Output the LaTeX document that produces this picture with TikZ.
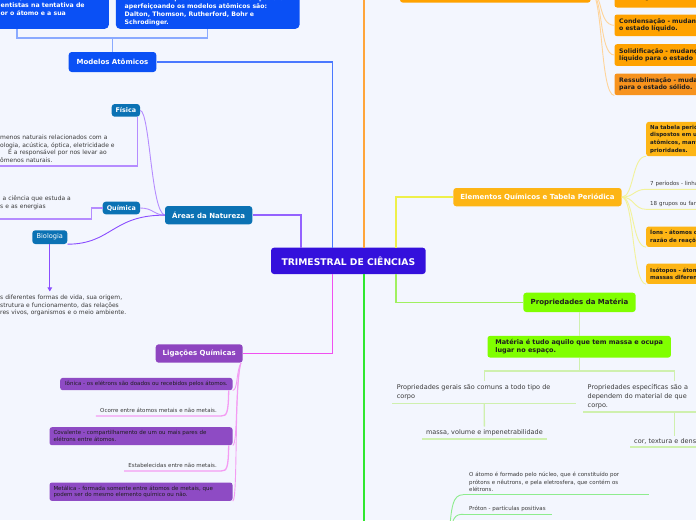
\documentclass[tikz,border=0pt]{standalone}
\usepackage{fontspec}
\setmainfont{DejaVu Sans}
\usetikzlibrary{calc,arrows.meta,positioning}

%% fills
\definecolor{bgc}{HTML}{F3F6FE}
\definecolor{hubc}{HTML}{3410DC}
\definecolor{modc}{HTML}{0A50F5}
\definecolor{arec}{HTML}{0B72B4}
\definecolor{ligc}{HTML}{8E45C0}
\definecolor{ligl}{HTML}{8E4BC4}
\definecolor{orgc}{HTML}{FFA200}
\definecolor{ressc}{HTML}{F7931E}
\definecolor{elc}{HTML}{FDB515}
\definecolor{prc}{HTML}{80FF00}
\definecolor{txtc}{HTML}{3A3A3A}
\definecolor{txtd}{HTML}{1E1E1E}
%% lines
\definecolor{lpur}{HTML}{9462FF}
\definecolor{lblu}{HTML}{4A78FF}
\definecolor{lbra}{HTML}{8AAAFF}
\definecolor{lorg}{HTML}{FFA53A}
\definecolor{lyel}{HTML}{EEF04A}
\definecolor{lmag}{HTML}{F050F0}
\definecolor{lgrn}{HTML}{2FE82F}
\definecolor{lpgr}{HTML}{A0F060}
\definecolor{twpur}{HTML}{B58CFF}
\definecolor{twbio}{HTML}{8A4DFF}
\definecolor{twmag}{HTML}{F39CF3}
\definecolor{tworg}{HTML}{FFD49A}
\definecolor{twyel}{HTML}{F2F29A}
\definecolor{twpg}{HTML}{CFF0AE}
\definecolor{twgrn}{HTML}{8EEC8E}

\newcommand{\fhub}{\bfseries\fontsize{9.2}{11}\selectfont}
\newcommand{\ftop}{\bfseries\fontsize{7}{9}\selectfont}
\newcommand{\fsub}{\bfseries\fontsize{6.4}{8}\selectfont}
\newcommand{\fpanel}{\bfseries\fontsize{6.2}{8}\selectfont}
\newcommand{\forg}{\bfseries\fontsize{6.2}{7.6}\selectfont}
\newcommand{\fel}{\bfseries\fontsize{5.5}{7.6}\selectfont}
\newcommand{\fnote}{\fontsize{6.5}{9.3}\selectfont}
\newcommand{\fdesc}{\fontsize{6}{7.8}\selectfont}
\newcommand{\fsmall}{\fontsize{5.5}{6.6}\selectfont}
\newcommand{\fatom}{\fontsize{5.5}{7.5}\selectfont}

\tikzset{
	hub/.style={fill=hubc, text=white, rounded corners=3pt, inner sep=0pt, font=\fhub},
	topic/.style={text=white, rounded corners=3pt, inner sep=0pt, font=\ftop},
	leafbox/.style={anchor=north west, rounded corners=2.5pt, inner xsep=4pt, inner ysep=0pt, align=left, text=txtd},
	note/.style={inner xsep=4pt, inner ysep=2.5pt, align=left, text=txtc},
	branch/.style={line width=1.6pt},
	twig/.style={line width=0.9pt},
	uline/.style={line width=1.3pt},
}

\begin{document}
\begin{tikzpicture}[x=1pt,y=-1pt]
	\useasboundingbox (0,0) rectangle (696,520);
	\fill[bgc] (0,0) rectangle (696,520);
	\clip (0,0) rectangle (696,520);

	%% central topic
	\node[hub, minimum width=154.7pt, minimum height=26.3pt] (tri) at (348.35,260.85) {TRIMESTRAL DE CIÊNCIAS};

	%% ports on the central topic (top and bottom)
	\coordinate (tA) at ($(tri.north)+(-47.4,0)$); % Areas
	\coordinate (tM) at ($(tri.north)+(-15.7,0)$); % Modelos
	\coordinate (tO) at ($(tri.north)+(15.7,0)$);  % orange branch
	\coordinate (tE) at ($(tri.north)+(47.4,0)$);  % Elementos
	\coordinate (bL) at ($(tri.south)+(-15.7,0)$); % Ligacoes
	\coordinate (bG) at ($(tri.south)+(15.7,0)$);  % green branch
	\coordinate (bP) at ($(tri.south)+(47.4,0)$);  % Propriedades

	%% Modelos Atomicos
	\node[topic, fill=modc, minimum width=87.6pt, minimum height=20pt] (mod) at (112.5,62) {Modelos Atômicos};
	\node[fill=modc, rounded corners=4pt, inner sep=0pt, minimum width=183.4pt, minimum height=60pt, anchor=south east] (mda) at (109,29) {};
	\node[anchor=north west, inner sep=0pt, align=left, text=white, font=\fpanel] (mdat) at (0.5,-5.5) {mos que foram\\entistas na tentativa de\\or o átomo e a sua};
	\node[fill=modc, rounded corners=4pt, inner xsep=4pt, inner ysep=3pt, align=left, text=white, font=\fpanel, minimum width=183.6pt, anchor=south west] (mdb) at (115.7,29) {Os cientistas que criaram e com o tempo foram\\aperfeiçoando os modelos atômicos são:\\Dalton, Thomson, Rutherford, Bohr e\\Schrodinger.};

	\coordinate (msplit) at ($(mod.north)+(0,-13.7)$);
	\draw[uline, lbra] (mod.north) -- (msplit);
	\draw[uline, lbra] (mda.south) |- (msplit) -| (mdb.south);
	\draw[branch, lblu] (mod.east) -| (tM);

	%% Areas da Natureza
	\node[topic, fill=arec, minimum width=87.3pt, minimum height=18.3pt] (are) at (208.65,215.15) {Áreas da Natureza};
	\node[topic, fill=arec, font=\fsub, minimum width=28.3pt, minimum height=12.7pt] (fis) at (125.85,110.35) {Física};
	\node[topic, fill=arec, font=\fsub, minimum width=37.3pt, minimum height=12.6pt] (qui) at (121.35,208) {Química};
	\node[topic, fill=arec, font=\fontsize{6.6}{8}\selectfont, minimum width=35pt, minimum height=13.7pt] (bio) at (49.8,237.15) {Biologia};

	\node[note, font=\fdesc, anchor=south west, text width=133pt, inner ysep=3pt] (fisn) at (-4,166) {menos naturais relacionados com a\\ologia, acústica, óptica, eletricidade e\\\hspace*{8pt}É a responsável por nos levar ao\\ômenos naturais.};
	\node[note, font=\fdesc, anchor=south west, text width=88pt, inner ysep=3pt] (quin) at (-4,219) {\hspace*{2.5pt}a ciência que estuda a\\s e as energias\\\mbox{}};
	\node[note, font=\fdesc, anchor=south west, text width=138.3pt, inner ysep=3pt] (bion) at (-4,319.3) {s diferentes formas de vida, sua origem,\\strutura e funcionamento, das relações\\res vivos, organismos e o meio ambiente.};

	\draw[twig, twpur] (fis.east) .. controls (150,112) and (151,212) .. (are.west);
	\draw[twig, twpur] (qui.east) .. controls (153,208) and (154,215) .. (are.west);
	\draw[twig, twbio] (bio.south east) .. controls (112,244) and (112,215) .. (are.west);
	\draw[uline, twpur] ([xshift=-3pt]fis.south east) |- (fisn.south west);
	\draw[uline, twpur] (qui.west) -- ++(-10.7,0) |- (quin.south west);
	\draw[twig, twbio, -{Triangle[length=4pt,width=4.5pt]}] (bio.south) -- (bio.south |- bion.north);
	\draw[branch, lpur] (are.east) -| (tA);

	%% Ligacoes Quimicas
	\node[topic, fill=ligc, minimum width=87pt, minimum height=18.4pt] (lig) at (199.2,353.5) {Ligações Químicas};
	\node[leafbox, fill=ligl, font=\fsmall, inner xsep=2pt, minimum width=172.3pt, minimum height=12.3pt] (ion) at (60,377.7) {Iônica - os elétrons são doados ou recebidos pelos átomos.};
	\node[leafbox, fill=ligl, font=\fsmall, text width=175pt, minimum height=18pt] (cov) at (49.3,427) {Covalente - compartilhamento de um ou mais pares de\\elétrons entre átomos.};
	\node[leafbox, fill=ligl, font=\fsmall, text width=175pt, minimum height=18.4pt] (met) at (49.3,482.3) {Metálica - formada somente entre átomos de metais, que\\podem ser do mesmo elemento químico ou não.};
	\node[note, font=\fsmall, anchor=south east, inner ysep=3pt] (oco) at (221,416) {Ocorre entre átomos metais e não metais.};
	\node[note, font=\fsmall, anchor=south east, inner ysep=3pt] (est) at (221,471) {Estabelecidas entre não metais.};

	\draw[twig, twmag] ([xshift=-2pt]lig.south east) .. controls (236,372) and (238,390) .. (ion.south east);
	\draw[twig, twmag] ([xshift=-2pt]lig.south east) .. controls (235,380) and (238,445) .. (cov.south east);
	\draw[twig, twmag] ([xshift=-2pt]lig.south east) .. controls (234,390) and (238,500.7) .. (met.south east);
	\draw[uline, twmag] ([xshift=-4pt]ion.south east) .. controls (228.3,413) and (227,416) .. (oco.south east) -- (oco.south west);
	\draw[uline, twmag] ([xshift=-4pt]cov.south east) .. controls (228.3,468) and (227,471) .. (est.south east) -- (est.south west);
	\draw[branch, lmag] (lig.east) -| (bL);

	%% orange branch (topic above the page)
	\node[topic, fill=orgc, minimum width=190.7pt, minimum height=21.4pt] (mud) at (495.35,-8) {};
	\draw[branch, lorg] (tO) |- (mud.west);
	\node[leafbox, fill=orgc, font=\forg, text width=140pt, inner xsep=4.7pt, minimum height=21.7pt] (vap) at (614.3,-14.4) {\mbox{}\\estado gasoso.};
	\node[leafbox, fill=orgc, font=\forg, text width=140pt, inner xsep=4.7pt, minimum height=21.7pt] (con) at (614.3,14.3) {Condensação - mudança\\o estado líquido.};
	\node[leafbox, fill=orgc, font=\forg, text width=140pt, inner xsep=4.7pt, minimum height=21.7pt] (sol) at (614.3,44) {Solidificação - mudança\\líquido para o estado};
	\node[leafbox, fill=ressc, font=\forg, text width=140pt, inner xsep=4.7pt, minimum height=21.7pt] (res) at (614.3,73.3) {Ressublimação - mudança\\para o estado sólido.};
	\draw[twig, tworg] (mud.east) .. controls (602,-8) and (600,-3.5) .. (vap.west);
	\draw[twig, tworg] (mud.east) .. controls (603,-8) and (598,25) .. (con.west);
	\draw[twig, tworg] (mud.east) .. controls (603,-8) and (599,55) .. (sol.west);
	\draw[twig, tworg] (mud.east) .. controls (603,-8) and (600,95) .. (res.south west);

	%% Elementos Quimicos e Tabela Periodica
	\node[topic, fill=elc, minimum width=168.4pt, minimum height=18.3pt] (ele) at (537.5,197.15) {Elementos Químicos e Tabela Periódica};
	\draw[branch, lyel] (ele.west) -| (tE);
	\node[leafbox, fill=elc, font=\fel, text width=140pt, minimum height=34.3pt] (tab) at (646,121.7) {Na tabela periódica\\dispostos em u\\atômicos, mant\\prioridades.};
	\node[note, font=\fatom, anchor=south west, text width=70pt] (per) at (646,189.3) {7 períodos - linhas};
	\node[note, font=\fatom, anchor=south west, text width=70pt] (gru) at (646,209.3) {18 grupos ou famílias};
	\node[leafbox, fill=elc, font=\fel, text width=140pt, minimum height=20.4pt] (ions) at (646,226.3) {Íons - átomos c\\razão de reações};
	\node[leafbox, fill=elc, font=\fel, text width=140pt, minimum height=20.4pt] (iso) at (646,263.3) {Isótopos - átomos\\massas diferentes};
	\draw[twig, twyel] (ele.east) .. controls (634,197) and (632,156) .. (tab.south west);
	\draw[twig, twyel] (ele.east) .. controls (634,197) and (634,189.3) .. (per.south west) -- (per.south east);
	\draw[twig, twyel] (ele.east) .. controls (634,197) and (634,209.3) .. (gru.south west) -- (gru.south east);
	\draw[twig, twyel] (ele.east) .. controls (634,197) and (632,246.7) .. (ions.south west);
	\draw[twig, twyel] (ele.east) .. controls (634,197) and (632,283.7) .. (iso.south west);

	%% Propriedades da Materia
	\node[topic, fill=prc, text=txtd, minimum width=112.4pt, minimum height=19.3pt] (pro) at (579.5,302.35) {Propriedades da Matéria};
	\draw[branch, lpgr] (pro.west) -| (bP);
	\node[leafbox, fill=prc, font=\bfseries\fontsize{6.5}{8}\selectfont, inner xsep=4.7pt, minimum width=183.4pt, minimum height=21.6pt] (mat) at (487.3,335.7) {Matéria é tudo aquilo que tem massa e ocupa\\lugar no espaço.};
	\draw[uline, twpg] (pro.south) -- (pro.south |- mat.north);

	\node[note, font=\fnote, anchor=north, text width=174.9pt, inner xsep=4.4pt, inner ysep=0pt, minimum height=22.6pt] (ger) at (484.2,380.7) {Propriedades gerais são comuns a todo tipo de\\corpo};
	\node[note, font=\fnote, anchor=north, text width=174pt, inner xsep=4.4pt, inner ysep=0pt, minimum height=31pt] (esp) at (674.7,380.7) {Propriedades específicas são a\\dependem do material de que\\corpo.};
	\coordinate (gsplit) at ($(ger.north)+(0,-9.7)$);
	\draw[uline, twpg] (mat.south) -- (mat.south |- gsplit);
	\draw[uline, twpg] (ger.north) -- (gsplit) -| (esp.north);
	\draw[uline, twpg] (ger.south west) -- (ger.south east);
	\draw[uline, twpg] (esp.south west) -- (esp.south east);

	\node[note, font=\fnote, anchor=north, inner ysep=0pt, minimum width=124.4pt, minimum height=12pt] (mas) at (484.4,426.7) {massa, volume e impenetrabilidade};
	\node[note, font=\fnote, anchor=north west, text width=120pt, inner ysep=0pt, minimum height=11pt] (cor) at (630,435.7) {cor, textura e densidade};
	\draw[uline, twpg] (ger.south) -- (mas.north);
	\draw[uline, twpg] (mas.south west) -- (mas.south east);
	\draw[uline, twpg] (esp.south) -- (esp.south |- cor.north);
	\draw[uline, twpg] (cor.south west) -- (cor.south east);

	%% green branch, its topic lies below the page
	\coordinate (gend) at ($(bG)+(0,270)$);
	\draw[branch, lgrn] (bG) -- (gend);
	\coordinate (asrc) at (449,540);
	\node[note, font=\fatom, anchor=south west, text width=174pt, inner xsep=5.7pt] (ato) at (463.3,494.7) {O átomo é formado pelo núcleo, que é constituído por\\prótons e nêutrons, e pela eletrosfera, que contém os\\elétrons.};
	\node[note, font=\fatom, anchor=south west, inner xsep=5.7pt] (prt) at (463.3,514.3) {Próton - partículas positivas};
	\draw[twig, twgrn] (asrc) .. controls (451,505) and (453,494.7) .. (ato.south west);
	\draw[uline, twgrn] (ato.south west) -- (ato.south east);
	\draw[twig, twgrn] (asrc) .. controls (452,517) and (455,514.3) .. (prt.south west);
	\draw[uline, twgrn] (prt.south west) -- (prt.south east);
\end{tikzpicture}
\end{document}
